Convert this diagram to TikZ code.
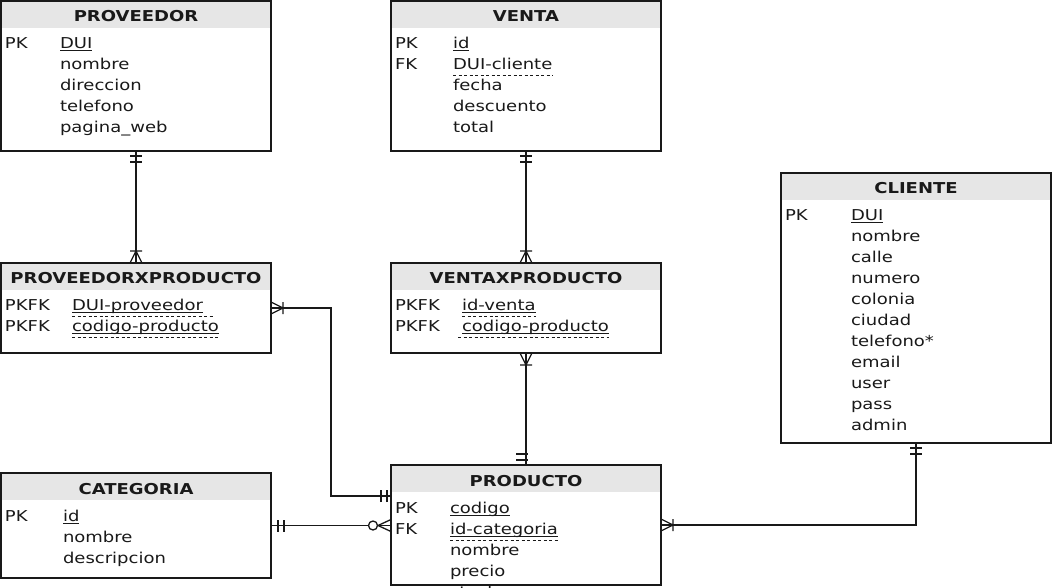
\documentclass[tikz,border=0pt]{standalone}
\usepackage{fontspec}
\setmainfont{DejaVu Sans}[FakeStretch=1.2]
\usetikzlibrary{calc}
\definecolor{hdrgray}{RGB}{230,230,230}
\newcommand\fsz{\fontsize{15}{18}\selectfont}
\newcommand\tablebox[5]{%
  \node[tbl, minimum width=#4pt, minimum height=#5pt] (#1) at (#2,#3) {};
  \fill[hdrgray] (#1.north west) rectangle ($(#1.north east)+(0,27)$);
  \draw[ln] (#1.north west) rectangle (#1.south east);}
\newcommand\fld[4]{\node[txt] (#1) at (#2,#3) {#4};}
\newcommand\solidul[1]{\draw[ul] ($(#1.base west)+(0,2.5)$) -- ($(#1.base east)+(0,2.5)$);}
\newcommand\dashul[3]{\draw[ul, dash pattern=on 3pt off 2.5pt] ($(#1.base west)+(#2,6)$) -- ($(#1.base east)+(#3,6)$);}
\begin{document}
\begin{tikzpicture}[x=1pt,y=-1pt,
  tbl/.style={draw=none, inner sep=0pt, outer sep=0pt, anchor=north west},
  txt/.style={inner sep=0pt, outer sep=0pt, anchor=base west, font=\fsz, text=black!90},
  hd/.style={inner sep=0pt, outer sep=0pt, anchor=base, font=\fsz\bfseries, text=black!90},
  ln/.style={line width=1.3pt, draw=black!90},
  ul/.style={line width=1pt, draw=black!90},
  dirdown/.style={x={(0pt,-1pt)}, y={(1pt,0pt)}},
  dirup/.style={x={(0pt,1pt)}, y={(1pt,0pt)}},
  dirright/.style={x={(1pt,0pt)}, y={(0pt,1pt)}},
  dirleft/.style={x={(-1pt,0pt)}, y={(0pt,1pt)}},
  mandone/.pic={\draw[ln] (5,-6) -- (5,6) (11,-6) -- (11,6);},
  onemany/.pic={\draw[ln] (0,-6) -- (12,0) -- (0,6) (12,-6) -- (12,6);},
  zeromany/.pic={\draw[ln] (0,-6) -- (13,0) -- (0,6); \draw[ln, fill=white] (18,0) circle (4.5pt);},
]
\useasboundingbox (0,0) rectangle (1052,587);
\clip (0,0) rectangle (1052,587);

% tables
\tablebox{prov}{1}{1}{270}{150}
\tablebox{venta}{391}{1}{270}{150}
\tablebox{cliente}{781}{173}{270}{270}
\tablebox{pxp}{1}{263}{270}{90}
\tablebox{vxp}{391}{263}{270}{90}
\tablebox{cat}{1}{473}{270}{105}
\tablebox{prod}{391}{465}{270}{120}

% PROVEEDOR
\node[hd] (hprov) at ($(prov.north)+(0,20.5)$) {PROVEEDOR};
\fld{provk1}{5}{48}{PK}
\fld{provf1}{60}{48}{DUI}\solidul{provf1}
\fld{provf2}{60}{69}{nombre}
\fld{provf3}{60}{90}{direccion}
\fld{provf4}{60}{111}{telefono}
\fld{provf5}{60}{132}{pagina\_web}

% VENTA
\node[hd] (hventa) at ($(venta.north)+(0,20.5)$) {VENTA};
\fld{ventak1}{395}{48}{PK}
\fld{ventak2}{395}{69}{FK}
\fld{ventaf1}{453}{48}{id}\solidul{ventaf1}
\fld{ventaf2}{453}{69}{DUI-cliente}\dashul{ventaf2}{0}{0}
\fld{ventaf3}{453}{90}{fecha}
\fld{ventaf4}{453}{111}{descuento}
\fld{ventaf5}{453}{132}{total}

% CLIENTE
\node[hd] (hcli) at ($(cliente.north)+(0,20.5)$) {CLIENTE};
\fld{clik1}{785}{220}{PK}
\fld{clif1}{851}{220}{DUI}\solidul{clif1}
\fld{clif2}{851}{241}{nombre}
\fld{clif3}{851}{262}{calle}
\fld{clif4}{851}{283}{numero}
\fld{clif5}{851}{304}{colonia}
\fld{clif6}{851}{325}{ciudad}
\fld{clif7}{851}{346}{telefono*}
\fld{clif8}{851}{367}{email}
\fld{clif9}{851}{388}{user}
\fld{clif10}{851}{409}{pass}
\fld{clif11}{851}{430}{admin}

% PROVEEDORXPRODUCTO
\node[hd] (hpxp) at ($(pxp.north)+(0,20.5)$) {PROVEEDORXPRODUCTO};
\fld{pxpk1}{5}{310}{PKFK}
\fld{pxpk2}{5}{331}{PKFK}
\fld{pxpf1}{72}{310}{DUI-proveedor}\solidul{pxpf1}\dashul{pxpf1}{0}{12}
\fld{pxpf2}{72}{331}{codigo-producto}\solidul{pxpf2}\dashul{pxpf2}{0}{0}

% VENTAXPRODUCTO
\node[hd] (hvxp) at ($(vxp.north)+(0,20.5)$) {VENTAXPRODUCTO};
\fld{vxpk1}{395}{310}{PKFK}
\fld{vxpk2}{395}{331}{PKFK}
\fld{vxpf1}{462}{310}{id-venta}\solidul{vxpf1}\dashul{vxpf1}{0}{0}
\fld{vxpf2}{462}{331}{codigo-producto}\solidul{vxpf2}\dashul{vxpf2}{-4}{0}

% CATEGORIA
\node[hd] (hcat) at ($(cat.north)+(0,21)$) {CATEGORIA};
\fld{catk1}{5}{521}{PK}
\fld{catf1}{63}{521}{id}\solidul{catf1}
\fld{catf2}{63}{542}{nombre}
\fld{catf3}{63}{563}{descripcion}

% PRODUCTO
\node[hd] (hprod) at ($(prod.north)+(0,21)$) {PRODUCTO};
\fld{prodk1}{395}{513}{PK}
\fld{prodk2}{395}{534}{FK}
\fld{prodf1}{450}{513}{codigo}\solidul{prodf1}
\fld{prodf2}{450}{534}{id-categoria}\solidul{prodf2}\dashul{prodf2}{0}{0}
\fld{prodf3}{450}{555}{nombre}
\fld{prodf4}{450}{576}{precio}
\fld{prodf5}{450}{597}{stock}
\draw[ln] (prod.north west) rectangle (prod.south east);

% connectors
\draw[ln] (prov.south) -- (pxp.north);
\pic[dirdown] at (prov.south) {mandone};
\pic[dirup] at (pxp.north) {onemany};

\draw[ln] (venta.south) -- (vxp.north);
\pic[dirdown] at (venta.south) {mandone};
\pic[dirup] at (vxp.north) {onemany};

\draw[ln] (vxp.south) -- (prod.north);
\pic[dirdown] at (vxp.south) {onemany};
\pic[dirup] at ($(prod.north)+(0,-4)$) {mandone};

\coordinate (pin) at ($(prod.north west)+(0,31)$);
\coordinate (bend) at ($(pxp.east)+(60,0)$);
\draw[ln] (pxp.east) -- (bend) |- (pin);
\pic[dirright] at (pxp.east) {onemany};
\pic[dirleft] at ($(pin)+(-1,0)$) {mandone};

\coordinate (cin) at (cat.east -| prod.west);
\draw[ln] (cat.east) -- (cin);
\pic[dirright] at ($(cat.east)+(2,0)$) {mandone};
\pic[dirleft] at (cin) {zeromany};

\draw[ln] (cliente.south) |- (prod.east);
\pic[dirdown] at (cliente.south) {mandone};
\pic[dirright] at (prod.east) {onemany};
\end{tikzpicture}
\end{document}
